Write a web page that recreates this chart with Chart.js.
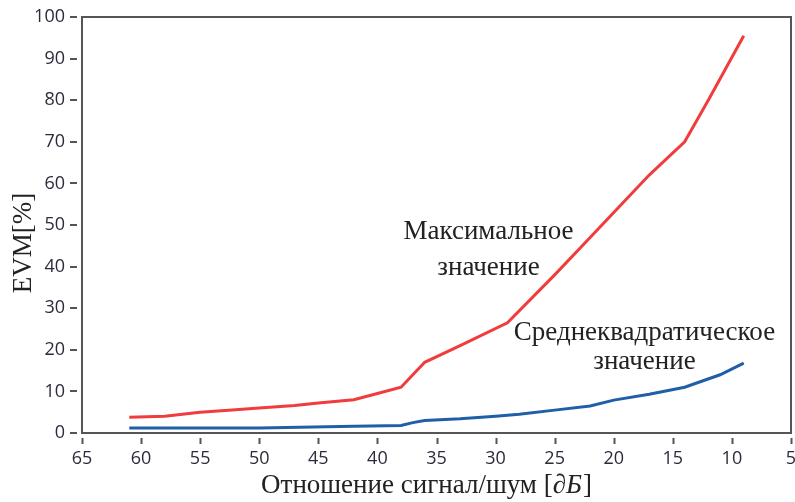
<!DOCTYPE html>
<html>
<head>
<meta charset="utf-8">
<script src="https://cdn.jsdelivr.net/npm/chart.js@4.4.1/dist/chart.umd.min.js"></script>
<style>
  html, body { margin: 0; padding: 0; background: #fff; }
  #wrap { width: 795px; height: 502px; }
</style>
</head>
<body>
<div id="wrap"><canvas id="evmChart"></canvas></div>
<script>
// ===== data =====
const snrMax = [61, 58, 55, 52, 50, 47, 45, 42, 40, 38, 37, 36, 33, 29, 25, 22, 20, 17, 14, 12, 9];
const evmMax = [3.8, 4.0, 5.0, 5.6, 6.0, 6.6, 7.2, 8.0, 9.5, 11.0, 14.0, 17.0, 21.0, 26.5, 38.0, 47.0, 53.0, 62.0, 70.0, 80.0, 95.5];

const snrRms = [61, 50, 42, 38, 37, 36, 33, 30, 28, 25, 22, 20, 17, 14, 11, 9];
const evmRms = [1.2, 1.2, 1.6, 1.8, 2.5, 3.0, 3.4, 4.0, 4.5, 5.5, 6.5, 7.9, 9.3, 11.0, 14.0, 16.8];

const xTicks = [65, 60, 55, 50, 45, 40, 35, 30, 25, 20, 15, 10, 5];
const yTicks = [0, 10, 20, 30, 40, 50, 60, 70, 80, 90, 100];

// text labels placed in data coordinates
const notes = [
  { text: 'Максимальное', x: 30.6, y: 48.3 },
  { text: 'значение', x: 30.6, y: 39.6 },
  { text: 'Среднеквадратическое', x: 17.4, y: 24 },
  { text: 'значение', x: 17.4, y: 17 }
];

const toPoints = (xs, ys) => xs.map((x, i) => ({ x: x, y: ys[i] }));

const TICK_FONT = { family: '"Open Sans", "Noto Sans", sans-serif', size: 18 };
const SERIF = '"Liberation Serif", "DejaVu Serif", serif';

// frame, detached tick marks, axis titles and notes
const decorPlugin = {
  id: 'decor',
  afterDraw(chart) {
    const c = chart.ctx;
    const a = chart.chartArea;
    const xs = chart.scales.x, ys = chart.scales.y;
    c.save();
    c.strokeStyle = '#555';
    c.lineWidth = 2;
    c.strokeRect(a.left, a.top, a.right - a.left, a.bottom - a.top);

    // small tick marks a few px away from the axis
    c.beginPath();
    xTicks.forEach(v => {
      const px = Math.round(xs.getPixelForValue(v)) + 0.5;
      c.moveTo(px, a.bottom + 5); c.lineTo(px, a.bottom + 11);
    });
    yTicks.forEach(v => {
      const py = Math.round(ys.getPixelForValue(v));
      c.moveTo(a.left - 12, py); c.lineTo(a.left - 5, py);
    });
    c.stroke();

    c.fillStyle = '#222';
    c.textBaseline = 'middle';
    c.textAlign = 'center';
    c.font = '27px ' + SERIF;
    notes.forEach(n => c.fillText(n.text, xs.getPixelForValue(n.x), ys.getPixelForValue(n.y)));

    // x title with italic part
    const part1 = 'Отношение сигнал/шум [';
    const part2 = '∂Б';
    const part3 = ']';
    const fN = '27px ' + SERIF, fI = 'italic 27px ' + SERIF;
    c.font = fN; const w1 = c.measureText(part1).width, w3 = c.measureText(part3).width;
    c.font = fI; const w2 = c.measureText(part2).width;
    let x0 = 426 - (w1 + w2 + w3) / 2;
    const yT = 486;
    c.textAlign = 'left';
    c.font = fN; c.fillText(part1, x0, yT);
    c.font = fI; c.fillText(part2, x0 + w1, yT);
    c.font = fN; c.fillText(part3, x0 + w1 + w2 + 1, yT);

    // y title
    c.translate(24, 243);
    c.rotate(-Math.PI / 2);
    c.textAlign = 'center';
    c.font = '27px ' + SERIF;
    c.fillText('EVM[%]', 0, 0);
    c.restore();
  }
};

new Chart(document.getElementById('evmChart'), {
  type: 'line',
  data: {
    datasets: [
      { label: 'max', data: toPoints(snrMax, evmMax), borderColor: '#f03c3c', borderWidth: 3, pointRadius: 0, tension: 0 },
      { label: 'rms', data: toPoints(snrRms, evmRms), borderColor: '#1f5fa8', borderWidth: 3, pointRadius: 0, tension: 0 }
    ]
  },
  options: {
    responsive: true,
    maintainAspectRatio: false,
    animation: false,
    layout: { padding: { top: 17, right: 4, left: 0, bottom: 0 } },
    plugins: { legend: { display: false }, tooltip: { enabled: false } },
    scales: {
      x: {
        type: 'linear', min: 5, max: 65, reverse: true,
        afterBuildTicks: s => { s.ticks = xTicks.map(v => ({ value: v })); },
        afterFit: s => { s.height = 69; s.paddingLeft = 0; s.paddingRight = 0; },
        grid: { drawOnChartArea: false, drawTicks: true, tickLength: 11, tickColor: 'rgba(0,0,0,0)' },
        border: { color: '#555', width: 2 },
        ticks: { font: TICK_FONT, color: '#2b2b3b', padding: 4, maxRotation: 0, autoSkip: false }
      },
      y: {
        type: 'linear', min: 0, max: 100,
        afterBuildTicks: s => { s.ticks = yTicks.map(v => ({ value: v })); },
        afterFit: s => { s.width = 82; s.paddingTop = 0; s.paddingBottom = 0; },
        grid: { drawOnChartArea: false, drawTicks: true, tickLength: 12, tickColor: 'rgba(0,0,0,0)' },
        border: { color: '#555', width: 2 },
        ticks: { font: TICK_FONT, color: '#2b2b3b', padding: 5 }
      }
    }
  },
  plugins: [decorPlugin]
});
</script>
</body>
</html>
